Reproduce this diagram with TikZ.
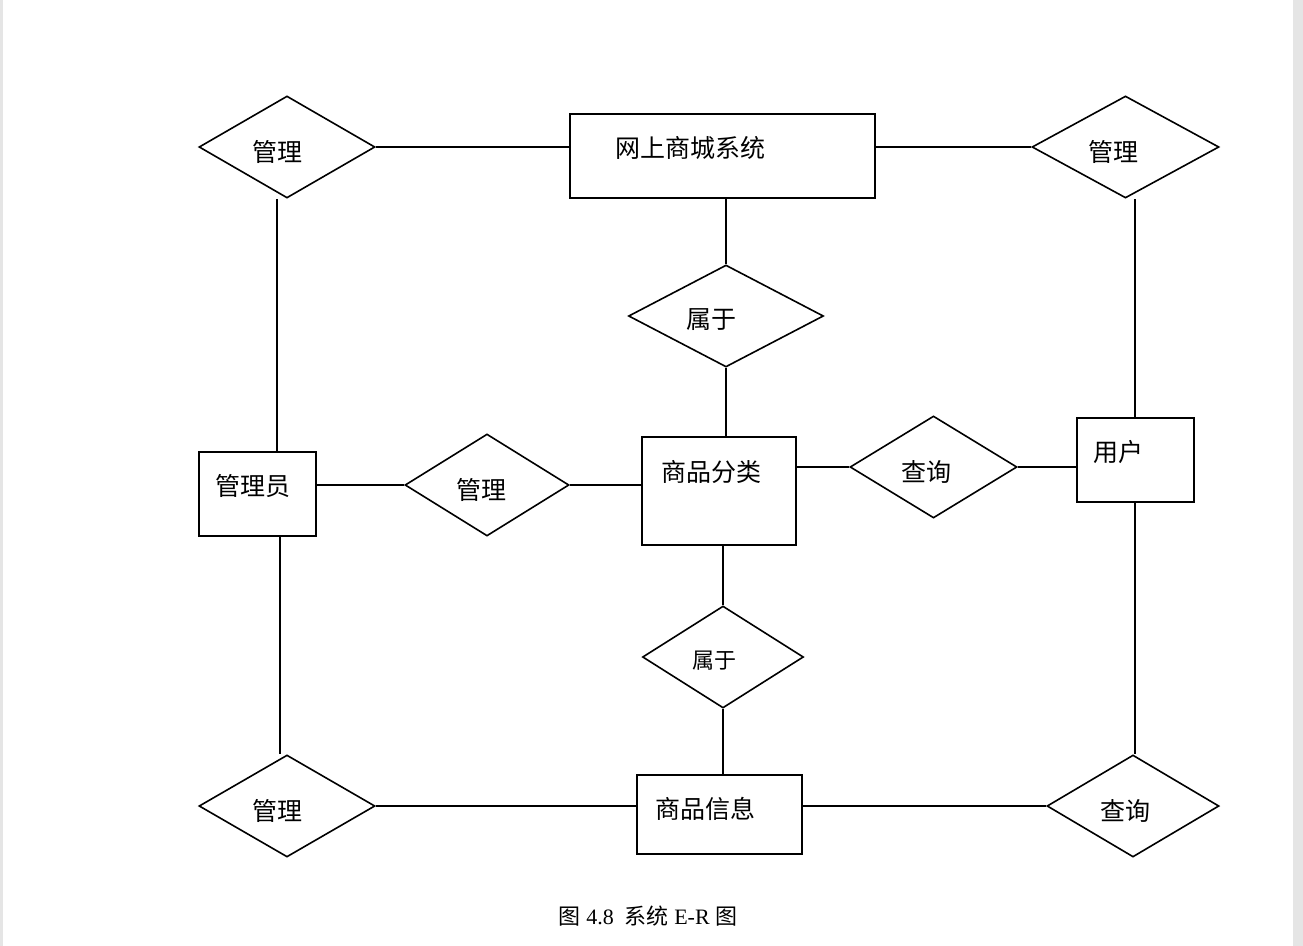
\documentclass[tikz,border=0pt]{standalone}
\usepackage{fontspec}
\setmainfont{Liberation Serif}
\newfontfamily\cjk{Noto Sans CJK SC}
\usetikzlibrary{shapes.geometric,calc}
\begin{document}
\begin{tikzpicture}[x=0.75pt,y=-0.75pt,line width=1.4pt,
  ent/.style n args={2}{draw,rectangle,inner sep=0pt,minimum width=#1*0.75pt,minimum height=#2*0.75pt},
  rel/.style n args={2}{draw,diamond,line width=1.2pt,inner sep=0pt,minimum width=#1*0.75pt,minimum height=#2*0.75pt},
  lbl/.style={inner sep=0pt,font=\cjk\fontsize{18.75pt}{20pt}\selectfont},
  slbl/.style={inner sep=0pt,font=\cjk\fontsize{16.5pt}{18pt}\selectfont},
  conn/.style={draw,line width=1.5pt}]
\useasboundingbox (0,0) rectangle (1303,946);
\fill[black!10] (0,0) rectangle (3,946);
\fill[black!10] (1293,0) rectangle (1303,946);
% entities
\node[ent={305}{84}] (sys) at (722.5,156) {};
\node[ent={154}{108}] (cat) at (719,491) {};
\node[ent={117}{84}] (admin) at (257.5,494) {};
\node[ent={117}{84}] (user) at (1135.5,460) {};
\node[ent={165}{79}] (goods) at (719.5,814.5) {};
% relations
\node[rel={176}{102}] (rtl) at (287,147) {};
\node[rel={187}{102}] (rtr) at (1125.5,147) {};
\node[rel={195}{102}] (bel1) at (726,316) {};
\node[rel={164}{102}] (mgm) at (487,485) {};
\node[rel={167}{102}] (qry1) at (933.5,467) {};
\node[rel={161}{102}] (bel2) at (723,657) {};
\node[rel={176}{102}] (rbl) at (287,806) {};
\node[rel={172}{102}] (qry2) at (1133,806) {};
% labels
\node[lbl] (t1) at (277,152) {管理};
\node[lbl] (t2) at (690,148) {网上商城系统};
\node[lbl] (t3) at (1113,152) {管理};
\node[lbl] (t4) at (711,320) {属于};
\node[lbl] (t5) at (711,472) {商品分类};
\node[lbl] (t6) at (481,490) {管理};
\node[lbl] (t7) at (253,486) {管理员};
\node[lbl] (t8) at (926,472) {查询};
\node[lbl] (t9) at (1118,452) {用户};
\node[slbl] (t10) at (714,661) {属于};
\node[lbl] (t11) at (705,809) {商品信息};
\node[lbl] (t12) at (277,811) {管理};
\node[lbl] (t13) at (1125,811) {查询};
\node[inner sep=0pt,font=\fontsize{16.5pt}{18pt}\selectfont] (cap) at (648,916)
  {{\cjk 图} 4.8\ \ {\cjk 系统} E-R {\cjk 图}};
% connectors
\coordinate (a1) at ($(rtl.south)+(-10,0)$);
\coordinate (a2) at ($(rbl.north)+(-7,0)$);
\coordinate (a3) at ($(user.north)+(-0.5,0)$);
\draw[conn] (rtl.east) -- (rtl.east -| sys.west);
\draw[conn] (rtr.west -| sys.east) -- (rtr.west);
\draw[conn] (bel1.north |- sys.south) -- (bel1.north);
\draw[conn] (bel1.south) -- (bel1.south |- cat.north);
\draw[conn] (a1) -- (a1 |- admin.north);
\draw[conn] (a2 |- admin.south) -- (a2);
\draw[conn] (mgm.west -| admin.east) -- (mgm.west);
\draw[conn] (mgm.east) -- (mgm.east -| cat.west);
\draw[conn] (qry1.west -| cat.east) -- (qry1.west);
\draw[conn] (qry1.east) -- (qry1.east -| user.west);
\draw[conn] (a3) -- (a3 |- rtr.south);
\draw[conn] (a3 |- user.south) -- (a3 |- qry2.north);
\draw[conn] (bel2.north |- cat.south) -- (bel2.north);
\draw[conn] (bel2.south) -- (bel2.south |- goods.north);
\draw[conn] (rbl.east) -- (rbl.east -| goods.west);
\draw[conn] (qry2.west -| goods.east) -- (qry2.west);
\end{tikzpicture}
\end{document}
